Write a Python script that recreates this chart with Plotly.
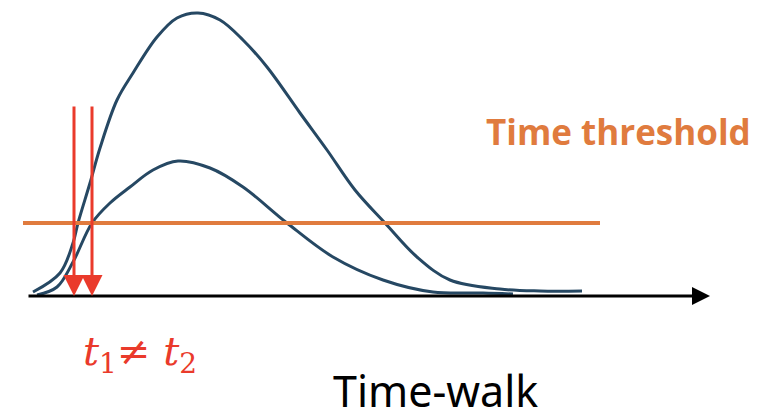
import plotly.graph_objects as go

# Pulse samples (time in px-like units, amplitude above baseline)
big_t = [33, 60, 73, 78, 90, 100, 117, 133, 157, 177, 198, 220, 243, 267, 300, 327, 355, 385, 417, 450, 500, 540, 582]
big_a = [4, 23, 53, 73, 113, 148, 196, 223, 259, 278, 283, 276, 256, 229, 183, 146, 106, 73, 39, 16, 7, 5, 5]

small_t = [37, 57, 73, 92, 110, 130, 153, 178, 210, 243, 287, 333, 383, 433, 483, 513]
small_a = [1, 9, 34, 73, 93, 109, 126, 135, 128, 109, 73, 39, 16, 4, 3, 2]

threshold_level = 73
threshold_span = [23, 600]
cross_times = [74, 92]
arrow_top = 191
axis_span = [27, 710]

curve_color = "#264863"
orange = "#E07B3E"
red = "#EA3A2B"

fig = go.Figure()
fig.add_trace(go.Scatter(x=big_t, y=big_a, mode="lines", line=dict(color=curve_color, width=3, shape="spline", smoothing=1.0), hoverinfo="skip"))
fig.add_trace(go.Scatter(x=small_t, y=small_a, mode="lines", line=dict(color=curve_color, width=3, shape="spline", smoothing=1.0), hoverinfo="skip"))
fig.add_trace(go.Scatter(x=threshold_span, y=[threshold_level, threshold_level], mode="lines", line=dict(color=orange, width=4), hoverinfo="skip"))

annotations = []
# x-axis arrow
annotations.append(dict(x=axis_span[1], y=0, ax=axis_span[0], ay=0, xref="x", yref="y", axref="x", ayref="y",
                        showarrow=True, arrowhead=2, arrowsize=1.2, arrowwidth=3, arrowcolor="black", text=""))
for t in cross_times:
    annotations.append(dict(x=t, y=0, ax=t, ay=arrow_top, xref="x", yref="y", axref="x", ayref="y",
                            showarrow=True, arrowhead=2, arrowsize=1.4, arrowwidth=3, arrowcolor=red, text=""))

annotations.append(dict(x=618, y=165, xref="x", yref="y", showarrow=False, text="<b>Time threshold</b>",
                        font=dict(family="Open Sans", size=35, color=orange)))
annotations.append(dict(x=140, y=-58, xref="x", yref="y", showarrow=False,
                        text="<i>t</i><sub>1</sub>≠ <i>t</i><sub>2</sub>",
                        font=dict(family="DejaVu Serif", size=40, color=red)))
annotations.append(dict(x=435, y=-63, xref="x", yref="y", showarrow=False, yanchor="top", text="Time-walk",
                        font=dict(family="Noto Sans", size=43, color="black")))

# page body has an 8px default margin, so ranges are offset by 8 units
fig.update_layout(
    width=766, height=408, margin=dict(l=0, r=0, t=0, b=0),
    paper_bgcolor="white", plot_bgcolor="white", showlegend=False,
    xaxis=dict(range=[8, 774], visible=False, fixedrange=True),
    yaxis=dict(range=[-120, 288], visible=False, fixedrange=True),
    annotations=annotations,
)
fig.write_html("out.html")
